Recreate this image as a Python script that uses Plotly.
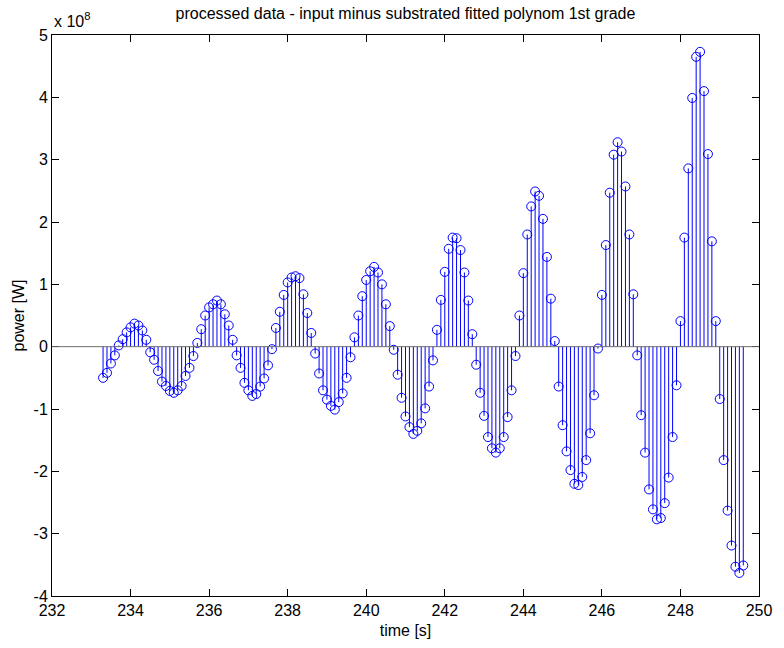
import plotly.graph_objects as go

# sample times [s] (0.1 s sampling grid)
time_s = [
    233.3, 233.4, 233.5, 233.6, 233.7, 233.8, 233.9,
    234.0, 234.1, 234.2, 234.3, 234.4, 234.5, 234.6, 234.7, 234.8, 234.9,
    235.0, 235.1, 235.2, 235.3, 235.4, 235.5, 235.6, 235.7, 235.8, 235.9,
    236.0, 236.1, 236.2, 236.3, 236.4, 236.5, 236.6, 236.7, 236.8, 236.9,
    237.0, 237.1, 237.2, 237.3, 237.4, 237.5, 237.6, 237.7, 237.8, 237.9,
    238.0, 238.1, 238.2, 238.3, 238.4, 238.5, 238.6, 238.7, 238.8, 238.9,
    239.0, 239.1, 239.2, 239.3, 239.4, 239.5, 239.6, 239.7, 239.8, 239.9,
    240.0, 240.1, 240.2, 240.3, 240.4, 240.5, 240.6, 240.7, 240.8, 240.9,
    241.0, 241.1, 241.2, 241.3, 241.4, 241.5, 241.6, 241.7, 241.8, 241.9,
    242.0, 242.1, 242.2, 242.3, 242.4, 242.5, 242.6, 242.7, 242.8, 242.9,
    243.0, 243.1, 243.2, 243.3, 243.4, 243.5, 243.6, 243.7, 243.8, 243.9,
    244.0, 244.1, 244.2, 244.3, 244.4, 244.5, 244.6, 244.7, 244.8, 244.9,
    245.0, 245.1, 245.2, 245.3, 245.4, 245.5, 245.6, 245.7, 245.8, 245.9,
    246.0, 246.1, 246.2, 246.3, 246.4, 246.5, 246.6, 246.7, 246.8, 246.9,
    247.0, 247.1, 247.2, 247.3, 247.4, 247.5, 247.6, 247.7, 247.8, 247.9,
    248.0, 248.1, 248.2, 248.3, 248.4, 248.5, 248.6, 248.7, 248.8, 248.9,
    249.0, 249.1, 249.2, 249.3, 249.4, 249.5, 249.6,
]

# power [W] in units of 1e8
power_e8 = [
    -0.50, -0.42, -0.27, -0.14, 0.02, 0.12, 0.23,
    0.31, 0.37, 0.34, 0.26, 0.11, -0.09, -0.21, -0.39, -0.56, -0.63,
    -0.71, -0.74, -0.70, -0.63, -0.47, -0.34, -0.15, 0.06, 0.28, 0.50,
    0.63, 0.68, 0.74, 0.68, 0.52, 0.34, 0.11, -0.14, -0.34, -0.58,
    -0.70, -0.79, -0.76, -0.64, -0.51, -0.30, -0.04, 0.30, 0.56, 0.83,
    1.03, 1.11, 1.13, 1.10, 0.84, 0.54, 0.22, -0.11, -0.43, -0.70,
    -0.85, -0.95, -1.01, -0.89, -0.75, -0.50, -0.17, 0.15, 0.50, 0.81,
    1.07, 1.21, 1.28, 1.19, 1.00, 0.68, 0.33, -0.05, -0.45, -0.82,
    -1.12, -1.29, -1.40, -1.35, -1.23, -0.99, -0.64, -0.22, 0.27, 0.75,
    1.20, 1.57, 1.75, 1.74, 1.55, 1.19, 0.74, 0.20, -0.29, -0.74,
    -1.11, -1.45, -1.63, -1.70, -1.63, -1.45, -1.13, -0.70, -0.15, 0.50,
    1.18, 1.80, 2.25, 2.49, 2.42, 2.05, 1.44, 0.77, 0.09, -0.64,
    -1.26, -1.68, -1.98, -2.20, -2.22, -2.09, -1.82, -1.39, -0.78, -0.03,
    0.83, 1.63, 2.47, 3.08, 3.28, 3.13, 2.57, 1.80, 0.84, -0.14,
    -1.10, -1.70, -2.29, -2.61, -2.77, -2.75, -2.51, -2.10, -1.45, -0.62,
    0.41, 1.75, 2.86, 3.99, 4.65, 4.73, 4.10, 3.09, 1.69, 0.41,
    -0.84, -1.82, -2.63, -3.19, -3.53, -3.63, -3.51,
]

x_ticks = [232, 234, 236, 238, 240, 242, 244, 246, 248, 250]
y_ticks = [-4, -3, -2, -1, 0, 1, 2, 3, 4, 5]

FONT = "Liberation Sans, Arial, sans-serif"
BLUE = "#0000ff"

stem_x, stem_y = [], []
for t, p in zip(time_s, power_e8):
    stem_x += [t, t, None]
    stem_y += [0, p, None]

fig = go.Figure()
fig.add_trace(go.Scatter(x=stem_x, y=stem_y, mode="lines",
                         line=dict(color=BLUE, width=1), hoverinfo="skip"))
fig.add_trace(go.Scatter(x=time_s, y=power_e8, mode="markers",
                         marker=dict(symbol="circle-open", size=9, color=BLUE,
                                     line=dict(width=1, color=BLUE))))

fig.add_shape(type="line", xref="paper", x0=0, x1=1, yref="y", y0=0, y1=0,
              line=dict(color="#6e6e6e", width=1), layer="above")

axis_common = dict(showgrid=False, zeroline=False, showline=True, linecolor="black",
                   linewidth=1, mirror="ticks", ticks="inside", ticklen=7,
                   tickcolor="black", tickfont=dict(family=FONT, size=16, color="black"))

fig.update_layout(
    width=784, height=648,
    margin=dict(l=52, r=17, t=35, b=50),
    paper_bgcolor="white", plot_bgcolor="white",
    showlegend=False,
    font=dict(family=FONT, size=16, color="black"),
    title=dict(text="processed data - input minus substrated fitted polynom 1st grade",
               x=0.5, xref="paper", xanchor="center",
               y=1 - 13 / 648, yref="container", yanchor="middle",
               font=dict(family=FONT, size=16, color="black")),
    xaxis=dict(range=[232, 250], tickvals=x_ticks, ticktext=[str(v) for v in x_ticks],
               title=dict(text="time [s]", standoff=6, font=dict(family=FONT, size=16)),
               **axis_common),
    yaxis=dict(range=[-4, 5], tickvals=y_ticks, ticktext=[str(v) for v in y_ticks],
               title=dict(text="power [W]", standoff=4, font=dict(family=FONT, size=16)),
               **axis_common),
)

fig.add_annotation(text="x 10<sup>8</sup>", xref="paper", yref="paper", x=0, y=1,
                   xanchor="left", yanchor="bottom", yshift=3, showarrow=False,
                   font=dict(family=FONT, size=16, color="black"))

fig.write_html("out.html")
